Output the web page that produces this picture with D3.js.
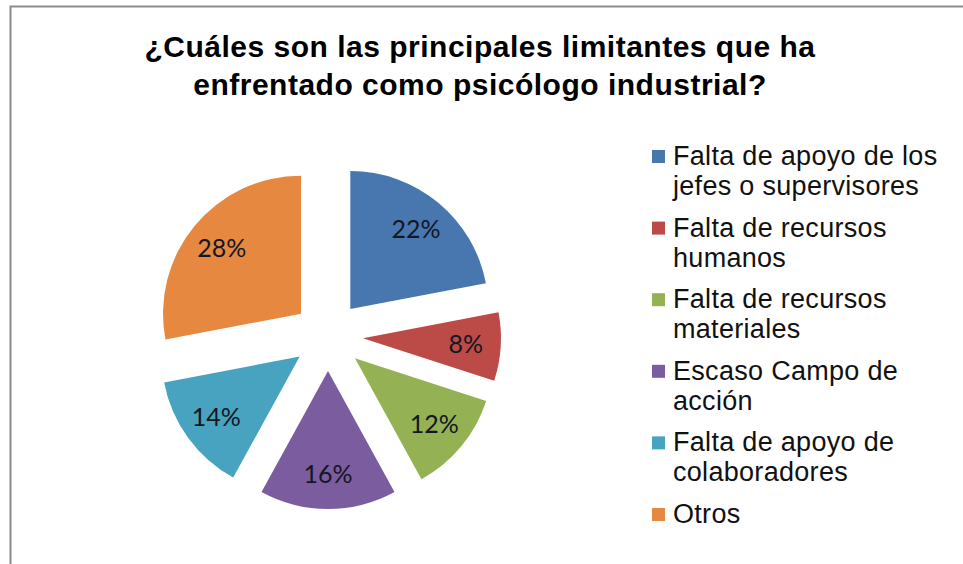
<!DOCTYPE html>
<html>
<head>
<meta charset="utf-8">
<script src="https://cdn.jsdelivr.net/npm/d3@7"></script>
<style>
  body { margin: 0; background: #fff; }
</style>
</head>
<body>
<div id="container"></div>
<script>
var categories = [
  "Falta de apoyo de los\njefes o supervisores",
  "Falta de recursos\nhumanos",
  "Falta de recursos\nmateriales",
  "Escaso Campo de\nacción",
  "Falta de apoyo de\ncolaboradores",
  "Otros"
];
var values = [22, 8, 12, 16, 14, 28];
var colors = ["#4877B0", "#BC4B48", "#94B254", "#7B5C9F", "#47A3BF", "#E6883F"];
var title = ["¿Cuáles son las principales limitantes que ha", "enfrentado como psicólogo industrial?"];

var width = 963, height = 564;
var cx = 328, cy = 336, radius = 138, explode = 35;

var svg = d3.select("#container")
  .append("svg")
    .attr("width", width)
    .attr("height", height);

// chart frame (only top/left edges visible)
svg.append("rect")
  .attr("x", 10.5).attr("y", 6.5)
  .attr("width", 1000).attr("height", 700)
  .attr("fill", "#fff")
  .attr("stroke", "#8c8c8c")
  .attr("stroke-width", 2);

// title
svg.append("text")
  .attr("x", 480).attr("y", 57)
  .attr("text-anchor", "middle")
  .style("font-family", "Liberation Sans, Arial, sans-serif")
  .style("font-weight", "bold")
  .style("font-size", "30px")
  .style("letter-spacing", "0.5px")
  .attr("fill", "#000")
  .selectAll("tspan")
  .data(title)
  .enter()
  .append("tspan")
    .attr("x", 480)
    .attr("dy", function (d, i) { return i === 0 ? 0 : 38; })
    .text(function (d) { return d; });

var pie = d3.pie().sort(null).value(function (d) { return d; });
var arcs = pie(values);
var arc = d3.arc().innerRadius(0).outerRadius(radius);
var labelArc = d3.arc().innerRadius(103).outerRadius(103);

function offset(d) {
  var a = (d.startAngle + d.endAngle) / 2;
  return [Math.sin(a) * explode, -Math.cos(a) * explode];
}

var g = svg.append("g")
  .attr("transform", "translate(" + cx + "," + cy + ")");

var slices = g.selectAll(".slice")
  .data(arcs)
  .enter()
  .append("g")
    .attr("class", "slice")
    .attr("transform", function (d) {
      var o = offset(d);
      return "translate(" + o[0] + "," + o[1] + ")";
    });

slices.append("path")
  .attr("d", arc)
  .attr("fill", function (d, i) { return colors[i]; });

slices.append("text")
  .attr("transform", function (d) { return "translate(" + labelArc.centroid(d) + ")"; })
  .attr("text-anchor", "middle")
  .attr("dy", "0.35em")
  .style("font-family", "Lato, Carlito, Calibri, sans-serif")
  .style("font-size", "25px")
  .attr("fill", "#131722")
  .text(function (d) { return d.data + "%"; });

// legend
var legend = svg.append("g")
  .attr("transform", "translate(652,0)");

var items = legend.selectAll(".item")
  .data(categories)
  .enter()
  .append("g")
    .attr("class", "item")
    .attr("transform", function (d, i) { return "translate(0," + (165 + i * 71.6) + ")"; });

items.append("rect")
  .attr("x", 0).attr("y", -15)
  .attr("width", 13).attr("height", 13)
  .attr("fill", function (d, i) { return colors[i]; });

items.append("text")
  .style("font-family", "Liberation Sans, Arial, sans-serif")
  .style("font-size", "27px")
  .style("letter-spacing", "0.3px")
  .attr("fill", "#111")
  .selectAll("tspan")
  .data(function (d) { return d.split("\n"); })
  .enter()
  .append("tspan")
    .attr("x", 21)
    .attr("dy", function (d, i) { return i === 0 ? 0 : 30; })
    .text(function (d) { return d; });
</script>
</body>
</html>
